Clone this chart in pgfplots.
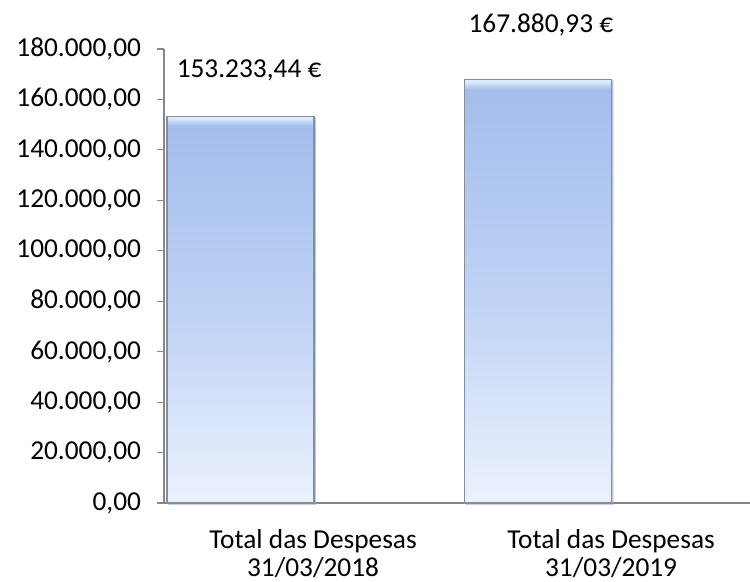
\documentclass[border=0pt]{standalone}
\usepackage{pgfplots}
\pgfplotsset{compat=1.18}
\usepackage{fontspec}
\setmainfont{Carlito}
\usetikzlibrary{shadows}
\definecolor{barTop}{RGB}{164,189,236}
\definecolor{barMid}{RGB}{190,210,245}
\definecolor{barBot}{RGB}{236,242,253}
\definecolor{barHi}{RGB}{222,236,253}
\definecolor{barEdge}{RGB}{130,142,162}
\definecolor{axisGray}{RGB}{134,134,134}
\pgfdeclareverticalshading{barshade}{100bp}{color(0bp)=(barBot); color(25bp)=(barBot); color(50bp)=(barMid); color(73.8bp)=(barTop); color(74.8bp)=(barHi); color(100bp)=(barHi)}
\begin{document}
\begin{tikzpicture}
\useasboundingbox (-123pt,-59.25pt) rectangle (439.5pt,377.25pt);
\begin{axis}[
  at={(0pt,0pt)}, anchor=south west,
  scale only axis, width=439.5pt, height=340.5pt,
  xmin=0, xmax=1.966, ymin=0, ymax=180000,
  axis lines*=left,
  axis line style={axisGray, line width=0.8pt},
  clip=false,
  ytick={0,20000,...,180000},
  ytick pos=left, xtick pos=bottom,
  tick align=outside,
  major tick length=5.25pt,
  minor tick length=5.25pt,
  every tick/.style={axisGray, line width=0.8pt},
  yticklabel style={font=\fontsize{20.5}{24}\selectfont, xshift=-8.5pt},
  /pgf/number format/assume math mode=true,
  y tick label style={/pgf/number format/.cd, fixed, fixed zerofill, precision=2, use comma, 1000 sep={.}},
  scaled y ticks=false,
  xtick={0.5,1.5},
  xticklabels={{Total das Despesas\\31/03/2018},{Total das Despesas\\31/03/2019}},
  x tick label style={font=\fontsize{20.5}{21}\selectfont, align=center, yshift=-11pt},
  x tick style={draw=none},
  minor xtick={0,1},
  minor x tick style={axisGray, line width=0.8pt},
  bar style/.style={ybar, bar width=0.493, bar shift=0pt, draw=barEdge, line width=1.1pt, shading=barshade,
    drop shadow={shadow xshift=1.2pt, shadow yshift=-1.2pt, opacity=0.25}},
]
\addplot[bar style] coordinates {(0.257,153233.44)};
\addplot[bar style] coordinates {(1.254,167880.93)};
\node[anchor=west, inner sep=0pt, font=\fontsize{20.5}{24}\selectfont] at (axis cs:0.042,171670) {153.233,44 €};
\node[anchor=west, inner sep=0pt, font=\fontsize{20.5}{24}\selectfont] at (axis cs:1.021,189515) {167.880,93 €};
\end{axis}
\end{tikzpicture}
\end{document}
